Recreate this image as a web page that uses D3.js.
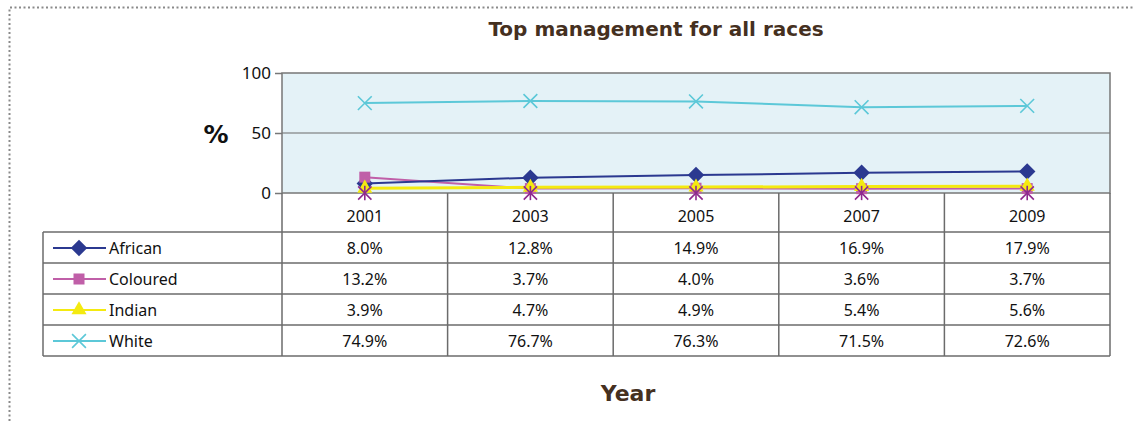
<!DOCTYPE html>
<html>
<head>
<meta charset="utf-8">
<script src="https://cdn.jsdelivr.net/npm/d3@7"></script>
<style>
body { margin: 0; background: #fff; }
svg text { font-family: "Noto Sans", "DejaVu Sans", sans-serif; }
</style>
</head>
<body>
<svg id="chart" width="1135" height="421"></svg>
<script>
var years = ["2001", "2003", "2005", "2007", "2009"];
var seriesNames = ["African", "Coloured", "Indian", "White"];
var african = [8.0, 12.8, 14.9, 16.9, 17.9];
var coloured = [13.2, 3.7, 4.0, 3.6, 3.7];
var indian = [3.9, 4.7, 4.9, 5.4, 5.6];
var white = [74.9, 76.7, 76.3, 71.5, 72.6];
var hidden = [0, 0, 0, 0, 0];
var yTicks = [0, 50, 100];

var svg = d3.select("#chart"),
	plot = { left: 282, right: 1110, top: 73, bottom: 193 },
	rowH = 31,
	tableLeft = 43;

var series = [
	{ name: seriesNames[0], values: african, color: "#2b3990", marker: "diamond" },
	{ name: seriesNames[1], values: coloured, color: "#c05fa8", marker: "square" },
	{ name: seriesNames[2], values: indian, color: "#f4ea10", marker: "triangle" },
	{ name: seriesNames[3], values: white, color: "#5cc8d8", marker: "x" }
];

var x = d3.scaleBand()
	.domain(years)
	.range([plot.left, plot.right]);

var y = d3.scaleLinear()
	.domain([0, 100])
	.range([plot.bottom, plot.top]);

// dotted frame
svg.append("path")
	.attr("d", "M9.5,430 L9.5,7.5 L1140,7.5")
	.attr("fill", "none")
	.attr("stroke", "#8a8a8a")
	.attr("stroke-width", 2)
	.attr("stroke-dasharray", "2,2.5");

svg.append("text")
	.attr("x", 656)
	.attr("y", 36)
	.attr("text-anchor", "middle")
	.attr("font-size", 20)
	.attr("font-weight", "bold")
	.attr("fill", "#45301f")
	.style("font-family", "DejaVu Sans")
	.text("Top management for all races");

// plot background
svg.append("rect")
	.attr("x", plot.left)
	.attr("y", plot.top)
	.attr("width", plot.right - plot.left)
	.attr("height", plot.bottom - plot.top)
	.attr("fill", "#e4f2f7");

// gridline
svg.append("line")
	.attr("x1", plot.left).attr("x2", plot.right)
	.attr("y1", y(50)).attr("y2", y(50))
	.attr("stroke", "#6b6b6b").attr("stroke-width", 1.2);

// y axis
var yAxis = d3.axisLeft(y).tickValues(yTicks).tickSize(7).tickPadding(4);
var gy = svg.append("g")
	.attr("transform", "translate(" + plot.left + ",0)")
	.call(yAxis);
gy.select(".domain").remove();
gy.selectAll(".tick line").attr("stroke", "#777").attr("stroke-width", 1.5);
gy.selectAll(".tick text")
	.attr("font-size", 17)
	.attr("fill", "#111")
	.attr("dy", "0.3em")
	.style("font-family", "Noto Sans");

svg.append("rect")
	.attr("x", plot.left)
	.attr("y", plot.top)
	.attr("width", plot.right - plot.left)
	.attr("height", plot.bottom - plot.top)
	.attr("fill", "none")
	.attr("stroke", "#777")
	.attr("stroke-width", 1.5);

svg.append("text")
	.attr("x", 216)
	.attr("y", 143)
	.attr("text-anchor", "middle")
	.attr("font-size", 25)
	.attr("font-weight", "bold")
	.attr("fill", "#111")
	.style("font-family", "DejaVu Sans")
	.text("%");

// markers
function drawMarker(g, type, cx, cy, color, s) {
	if (type === "diamond") {
		g.append("path")
			.attr("d", "M0," + (-s * 0.75) + "L" + (s * 0.75) + ",0L0," + (s * 0.75) + "L" + (-s * 0.75) + ",0Z")
			.attr("transform", "translate(" + cx + "," + cy + ")")
			.attr("fill", color);
	} else if (type === "square") {
		g.append("rect")
			.attr("x", cx - s / 2).attr("y", cy - s / 2)
			.attr("width", s).attr("height", s)
			.attr("fill", color);
	} else if (type === "triangle") {
		g.append("path")
			.attr("d", d3.symbol().type(d3.symbolTriangle).size(s * 9)())
			.attr("transform", "translate(" + cx + "," + cy + ")")
			.attr("fill", color);
	} else if (type === "x") {
		g.append("path")
			.attr("d", d3.symbol().type(d3.symbolX).size(s * 9)())
			.attr("transform", "translate(" + cx + "," + cy + ")")
			.attr("fill", "none").attr("stroke", color).attr("stroke-width", 1.6);
	} else if (type === "star") {
		g.append("path")
			.attr("d", d3.symbol().type(d3.symbolX).size(s * 9)())
			.attr("transform", "translate(" + cx + "," + cy + ")")
			.attr("fill", "none").attr("stroke", color).attr("stroke-width", 1.6);
		g.append("line")
			.attr("x1", cx).attr("x2", cx)
			.attr("y1", cy - s * 0.55).attr("y2", cy + s * 0.55)
			.attr("stroke", color).attr("stroke-width", 1.6);
	}
}

var line = d3.line()
	.x((d, i) => x(years[i]) + x.bandwidth() / 2)
	.y(d => y(d));

var linesG = svg.append("g");
[1, 2, 0, 3].forEach(function(k) {
	var s = series[k];
	linesG.append("path")
		.datum(s.values)
		.attr("d", line)
		.attr("fill", "none")
		.attr("stroke", s.color)
		.attr("stroke-width", s.name === "Indian" ? 3 : 2);
});
series.forEach(function(s) {
	s.values.forEach(function(v, i) {
		drawMarker(linesG, s.marker, x(years[i]) + x.bandwidth() / 2, y(v), s.color, s.marker === "x" ? 14 : 11);
	});
});
hidden.forEach(function(v, i) {
	drawMarker(linesG, "star", x(years[i]) + x.bandwidth() / 2, y(v), "#8e2a8e", 13);
});

// data table
var tableG = svg.append("g");
var tableTop = plot.bottom;
var headerH = 39;
var bodyTop = tableTop + headerH;
var gridColor = "#6b6b6b";

years.forEach(function(yr) {
	tableG.append("text")
		.attr("x", x(yr) + x.bandwidth() / 2)
		.attr("y", tableTop + 29)
		.attr("text-anchor", "middle")
		.attr("font-size", 16)
		.attr("fill", "#111")
		.text(yr);
});

series.forEach(function(s, r) {
	var ry = bodyTop + r * rowH;
	s.values.forEach(function(v, i) {
		tableG.append("text")
			.attr("x", x(years[i]) + x.bandwidth() / 2)
			.attr("y", ry + 22)
			.attr("text-anchor", "middle")
			.attr("font-size", 16)
			.attr("fill", "#111")
			.text(v.toFixed(1) + "%");
	});
	tableG.append("line")
		.attr("x1", 53).attr("x2", 106)
		.attr("y1", ry + 16).attr("y2", ry + 16)
		.attr("stroke", s.color).attr("stroke-width", 2);
	drawMarker(tableG, s.marker, 79, ry + 16, s.color, s.marker === "x" ? 14 : 11);
	tableG.append("text")
		.attr("x", 109)
		.attr("y", ry + 22)
		.attr("font-size", 16)
		.attr("fill", "#111")
		.text(s.name);
});

// grid lines of table
var bodyBottom = bodyTop + rowH * series.length;
d3.range(series.length + 1).forEach(function(r) {
	tableG.append("line")
		.attr("x1", tableLeft).attr("x2", plot.right)
		.attr("y1", bodyTop + r * rowH).attr("y2", bodyTop + r * rowH)
		.attr("stroke", gridColor).attr("stroke-width", 1.5);
});
years.concat([null]).forEach(function(yr) {
	var xx = yr ? x(yr) : plot.right;
	tableG.append("line")
		.attr("x1", xx).attr("x2", xx)
		.attr("y1", tableTop).attr("y2", bodyBottom)
		.attr("stroke", gridColor).attr("stroke-width", 1.5);
});
tableG.append("line")
	.attr("x1", tableLeft).attr("x2", tableLeft)
	.attr("y1", bodyTop).attr("y2", bodyBottom)
	.attr("stroke", gridColor).attr("stroke-width", 1.5);

svg.append("text")
	.attr("x", 628)
	.attr("y", 401)
	.attr("text-anchor", "middle")
	.attr("font-size", 22)
	.attr("font-weight", "bold")
	.attr("fill", "#45301f")
	.style("font-family", "DejaVu Sans")
	.text("Year");
</script>
</body>
</html>
